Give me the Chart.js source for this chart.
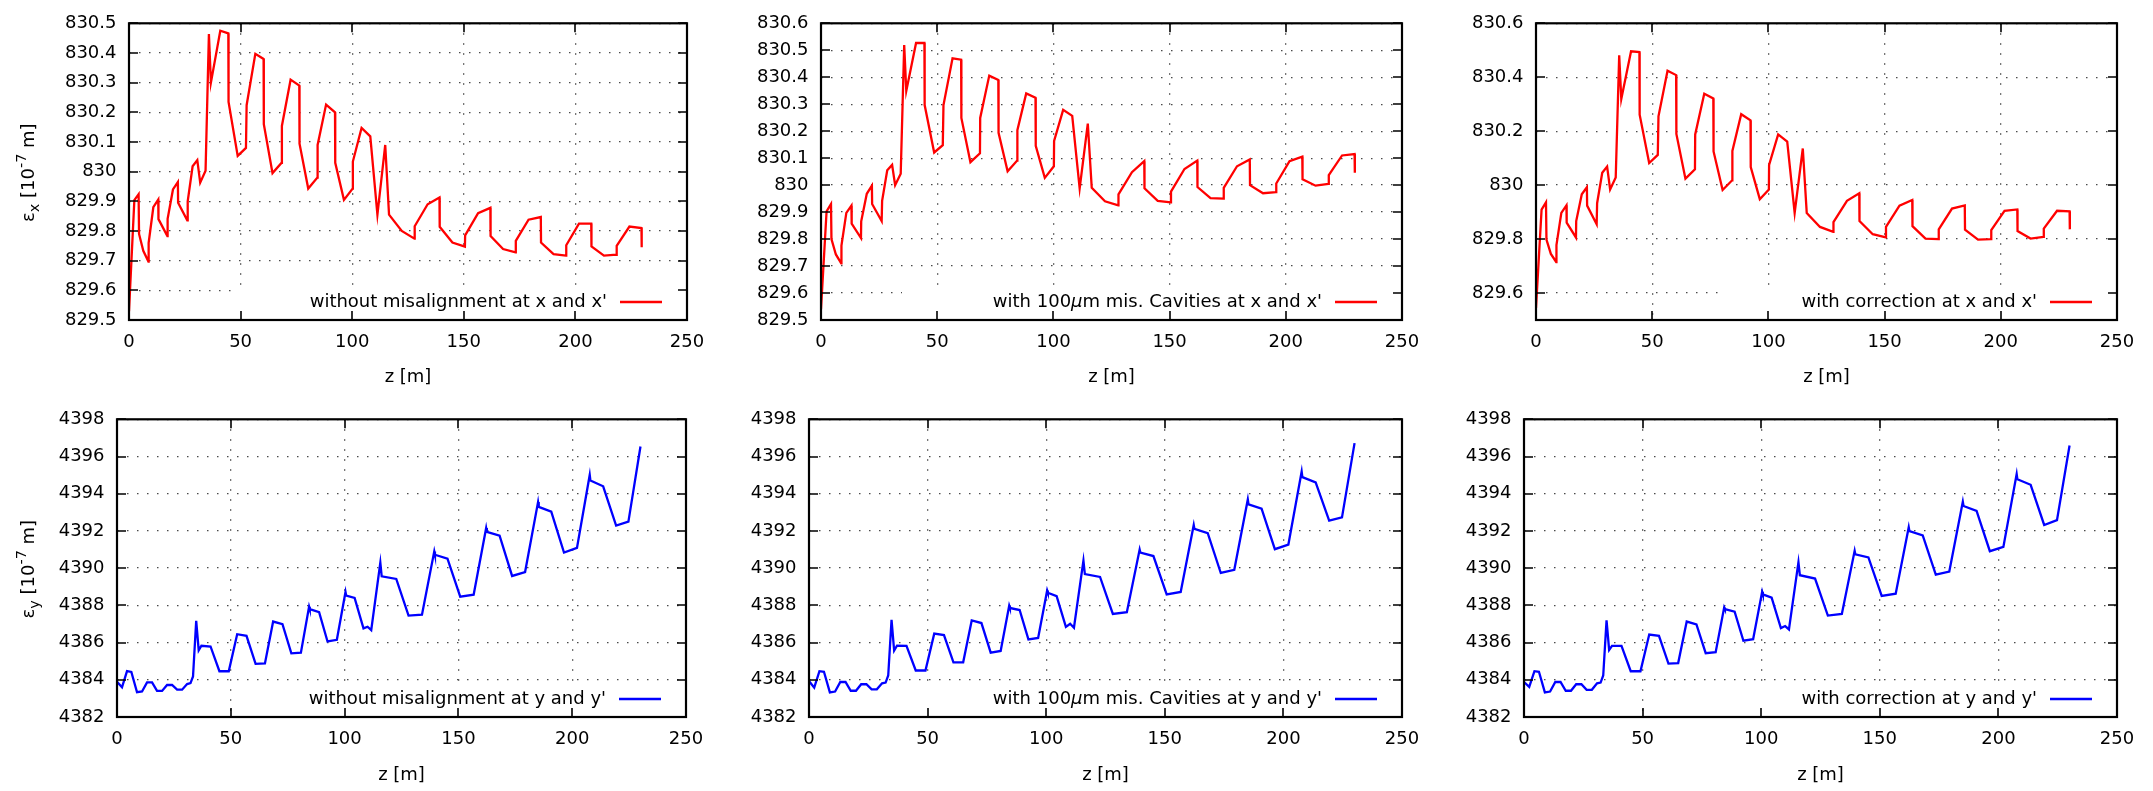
<!DOCTYPE html>
<html><head><meta charset="utf-8">
<script src="https://cdn.jsdelivr.net/npm/chart.js@4.4.1/dist/chart.umd.min.js"></script>
<style>
html,body{margin:0;padding:0;background:#fff;}
body{width:2153px;height:791px;position:relative;overflow:hidden;}
.panel{position:absolute;}
.panel canvas{display:block;}
</style></head><body>
<div class="panel" id="p0"><canvas id="c0"></canvas></div>
<div class="panel" id="p1"><canvas id="c1"></canvas></div>
<div class="panel" id="p2"><canvas id="c2"></canvas></div>
<div class="panel" id="p3"><canvas id="c3"></canvas></div>
<div class="panel" id="p4"><canvas id="c4"></canvas></div>
<div class="panel" id="p5"><canvas id="c5"></canvas></div>
<script>
// ---------------- data ----------------
const zTop = [0, 2.4, 4.3, 4.5, 6.4, 8.7, 8.8, 10.9, 13.1, 13.2, 17.2, 17.3, 19.7, 21.9, 22.0, 26.1, 26.3, 28.5, 30.6, 31.9, 34.3, 35.8, 36.7, 40.9, 44.5, 44.6, 48.7, 52.4, 52.7, 56.6, 60.3, 60.4, 64.3, 68.4, 68.5, 72.4, 76.3, 76.4, 80.3, 84.4, 84.5, 88.3, 92.3, 92.4, 96.3, 100.2, 100.3, 104.2, 108.1, 111.3, 114.8, 116.5, 122.2, 127.9, 128.0, 133.8, 139.1, 139.2, 144.9, 150.5, 150.6, 156.4, 161.9, 162.0, 167.6, 173.2, 173.3, 179.0, 184.5, 184.6, 190.2, 195.8, 195.9, 201.6, 207.1, 207.2, 212.8, 218.4, 218.5, 224.2, 229.6, 229.7];

const emitXWithout = [829.53, 829.904, 829.924, 829.79, 829.733, 829.697, 829.76, 829.88, 829.906, 829.84, 829.783, 829.841, 829.94, 829.965, 829.895, 829.836, 829.90, 830.018, 830.039, 829.963, 830.003, 830.464, 830.30, 830.475, 830.466, 830.235, 830.053, 830.08, 830.224, 830.397, 830.38, 830.16, 829.995, 830.03, 830.154, 830.31, 830.29, 830.094, 829.943, 829.98, 830.09, 830.226, 830.2, 830.03, 829.905, 829.943, 830.034, 830.147, 830.119, 829.855, 830.09, 829.855, 829.80, 829.774, 829.816, 829.89, 829.913, 829.814, 829.761, 829.747, 829.785, 829.86, 829.878, 829.783, 829.739, 829.728, 829.767, 829.838, 829.847, 829.761, 829.722, 829.717, 829.752, 829.825, 829.825, 829.748, 829.717, 829.72, 829.75, 829.815, 829.81, 829.745];

const emitXMisaligned = [829.54, 829.903, 829.93, 829.80, 829.743, 829.71, 829.776, 829.897, 829.924, 829.857, 829.804, 829.866, 829.968, 829.998, 829.93, 829.867, 829.942, 830.055, 830.075, 830.0, 830.042, 830.519, 830.349, 830.527, 830.527, 830.297, 830.121, 830.148, 830.297, 830.47, 830.465, 830.249, 830.085, 830.118, 830.249, 830.406, 830.39, 830.194, 830.051, 830.091, 830.204, 830.34, 830.324, 830.146, 830.027, 830.07, 830.164, 830.279, 830.257, 829.988, 830.228, 829.99, 829.94, 829.925, 829.966, 830.048, 830.089, 829.988, 829.942, 829.936, 829.976, 830.06, 830.091, 829.993, 829.952, 829.95, 829.99, 830.07, 830.095, 830.0, 829.97, 829.974, 830.006, 830.089, 830.106, 830.022, 829.998, 830.005, 830.037, 830.11, 830.115, 830.046];

const emitXCorrected = [829.545, 829.909, 829.936, 829.798, 829.745, 829.715, 829.778, 829.897, 829.925, 829.861, 829.806, 829.867, 829.966, 829.992, 829.924, 829.855, 829.933, 830.046, 830.069, 829.984, 830.028, 830.481, 830.319, 830.496, 830.493, 830.261, 830.082, 830.112, 830.255, 830.424, 830.408, 830.19, 830.024, 830.059, 830.188, 830.339, 830.321, 830.125, 829.982, 830.018, 830.127, 830.263, 830.24, 830.067, 829.948, 829.984, 830.075, 830.188, 830.161, 829.897, 830.136, 829.897, 829.845, 829.827, 829.863, 829.942, 829.97, 829.867, 829.818, 829.806, 829.845, 829.924, 829.945, 829.848, 829.802, 829.8, 829.836, 829.913, 829.925, 829.835, 829.798, 829.8, 829.833, 829.905, 829.91, 829.83, 829.802, 829.808, 829.839, 829.905, 829.903, 829.836];

const zBottom = [0, 2.2, 4.4, 6.3, 8.8, 11, 13.2, 15.4, 17.6, 19.8, 22, 24.2, 26.4, 28.6, 30.8, 32.3, 33.4, 34.8, 35.9, 37.1, 41.1, 45.0, 49.1, 52.8, 56.9, 60.9, 65.0, 68.6, 72.7, 76.6, 80.8, 84.4, 84.7, 88.8, 92.5, 96.6, 100.4, 100.7, 104.4, 108.3, 110.1, 111.7, 115.7, 116.3, 122.7, 128.1, 134.0, 139.4, 139.7, 145.2, 150.8, 156.7, 162.2, 162.5, 168.1, 173.6, 179.3, 185.0, 185.3, 190.8, 196.4, 202.1, 207.7, 208.0, 213.6, 219.3, 224.7, 230.0];

const emitYWithout = [4383.89, 4383.6, 4384.47, 4384.42, 4383.33, 4383.37, 4383.86, 4383.86, 4383.4, 4383.4, 4383.72, 4383.72, 4383.47, 4383.47, 4383.77, 4383.82, 4384.18, 4387.17, 4385.58, 4385.83, 4385.79, 4384.46, 4384.46, 4386.45, 4386.36, 4384.86, 4384.88, 4387.13, 4386.99, 4385.42, 4385.46, 4387.93, 4387.8, 4387.64, 4386.06, 4386.15, 4388.72, 4388.52, 4388.4, 4386.76, 4386.85, 4386.67, 4390.3, 4389.56, 4389.42, 4387.45, 4387.5, 4390.9, 4390.72, 4390.51, 4388.47, 4388.57, 4392.16, 4391.95, 4391.74, 4389.58, 4389.79, 4393.55, 4393.29, 4393.04, 4390.84, 4391.09, 4395.01, 4394.71, 4394.4, 4392.29, 4392.5, 4396.54];

const emitYMisaligned = [4383.93, 4383.58, 4384.46, 4384.43, 4383.32, 4383.37, 4383.88, 4383.88, 4383.41, 4383.41, 4383.76, 4383.76, 4383.49, 4383.49, 4383.81, 4383.85, 4384.23, 4387.22, 4385.57, 4385.83, 4385.82, 4384.5, 4384.5, 4386.48, 4386.4, 4384.94, 4384.94, 4387.19, 4387.05, 4385.46, 4385.55, 4387.98, 4387.86, 4387.75, 4386.17, 4386.25, 4388.8, 4388.68, 4388.5, 4386.84, 4387.01, 4386.8, 4390.4, 4389.68, 4389.53, 4387.54, 4387.63, 4391.0, 4390.84, 4390.65, 4388.59, 4388.72, 4392.32, 4392.11, 4391.88, 4389.74, 4389.91, 4393.69, 4393.43, 4393.2, 4391.02, 4391.27, 4395.19, 4394.89, 4394.61, 4392.55, 4392.73, 4396.72];

const emitYCorrected = [4383.88, 4383.62, 4384.46, 4384.43, 4383.32, 4383.37, 4383.88, 4383.88, 4383.41, 4383.41, 4383.76, 4383.76, 4383.46, 4383.46, 4383.81, 4383.85, 4384.23, 4387.19, 4385.6, 4385.82, 4385.82, 4384.46, 4384.46, 4386.43, 4386.36, 4384.87, 4384.9, 4387.13, 4386.98, 4385.43, 4385.48, 4387.89, 4387.8, 4387.66, 4386.1, 4386.18, 4388.73, 4388.59, 4388.42, 4386.78, 4386.89, 4386.71, 4390.32, 4389.62, 4389.44, 4387.45, 4387.54, 4390.93, 4390.74, 4390.58, 4388.51, 4388.63, 4392.2, 4391.99, 4391.76, 4389.65, 4389.82, 4393.57, 4393.34, 4393.08, 4390.91, 4391.14, 4395.06, 4394.78, 4394.48, 4392.32, 4392.58, 4396.59];

const zTicks = [0, 50, 100, 150, 200, 250];
const yTicksLeftTop = [829.5, 829.6, 829.7, 829.8, 829.9, 830.0, 830.1, 830.2, 830.3, 830.4, 830.5];
const yTicksMidTop = [829.5, 829.6, 829.7, 829.8, 829.9, 830.0, 830.1, 830.2, 830.3, 830.4, 830.5, 830.6];
const yTicksRightTop = [829.6, 829.8, 830.0, 830.2, 830.4, 830.6];
const yTicksBottom = [4382, 4384, 4386, 4388, 4390, 4392, 4394, 4396, 4398];

const legendLabels = [
  "without misalignment at x and x'",
  "with 100μm mis. Cavities at x and x'",
  "with correction at x and x'",
  "without misalignment at y and y'",
  "with 100μm mis. Cavities at y and y'",
  "with correction at y and y'"
];
const xAxisTitle = 'z [m]';
const yAxisTitles = [
  [{t:'ε'}, {t:'x', sub:true}, {t:' [10'}, {t:'-7', sup:true}, {t:' m]'}],
  [{t:'ε'}, {t:'y', sub:true}, {t:' [10'}, {t:'-7', sup:true}, {t:' m]'}]
];

// ---------------- layout / style ----------------
const FONT = "'DejaVu Sans', 'Liberation Sans', sans-serif";
const FS = 18;
const panels = [
  {x0:0,    y0:0,   w:718, h:396, L:129,  R:687,  T:18,  B:320, z:zTop, v:emitXWithout,   ymin:829.5, ymax:830.5, yt:yTicksLeftTop,  color:'#ff0000', leg:0, boxW:455, ytitle:0, xtPad:8.2},
  {x0:718,  y0:0,   w:718, h:396, L:821,  R:1402, T:18,  B:320, z:zTop, v:emitXMisaligned,ymin:829.5, ymax:830.6, yt:yTicksMidTop,   color:'#ff0000', leg:1, boxW:500, ytitle:-1, xtPad:8.2},
  {x0:1435, y0:0,   w:718, h:396, L:1536, R:2117, T:18,  B:320, z:zTop, v:emitXCorrected, ymin:829.5, ymax:830.6, yt:yTicksRightTop, color:'#ff0000', leg:2, boxW:397, ytitle:-1, xtPad:8.2},
  {x0:0,    y0:396, w:718, h:395, L:117,  R:686,  T:416, B:717, z:zBottom, v:emitYWithout,   ymin:4382, ymax:4398, yt:yTicksBottom, color:'#0000ff', leg:3, boxW:450, ytitle:1, xtPad:5.2},
  {x0:718,  y0:396, w:718, h:395, L:809,  R:1402, T:416, B:717, z:zBottom, v:emitYMisaligned,ymin:4382, ymax:4398, yt:yTicksBottom, color:'#0000ff', leg:4, boxW:500, ytitle:-1, xtPad:5.2},
  {x0:1435, y0:396, w:718, h:395, L:1524, R:2117, T:416, B:717, z:zBottom, v:emitYCorrected, ymin:4382, ymax:4398, yt:yTicksBottom, color:'#0000ff', leg:5, boxW:397, ytitle:-1, xtPad:5.2}
];

function fmt(v) { return String(parseFloat(Number(v).toFixed(3))); }

function setFont(ctx, size, italic) {
  ctx.font = (italic ? 'italic ' : '') + size + 'px ' + FONT;
}

const gnuPlugin = {
  id: 'gnu',
  beforeDatasetsDraw(chart, args, o) {
    const {ctx, chartArea: a} = chart;
    ctx.save();
    ctx.fillStyle = '#ffffff';
    ctx.fillRect(a.right - o.boxW, a.bottom - 31, o.boxW, 31);
    ctx.restore();
  },
  afterDatasetsDraw(chart, args, o) {
    const {ctx, chartArea: a, scales} = chart;
    ctx.save();
    // inward tics on all four sides
    const tl = 9;
    ctx.strokeStyle = '#000';
    ctx.lineWidth = 1.6;
    ctx.beginPath();
    scales.x.ticks.forEach(t => {
      const px = Math.round(scales.x.getPixelForValue(t.value));
      ctx.moveTo(px, a.bottom); ctx.lineTo(px, a.bottom - tl);
      ctx.moveTo(px, a.top); ctx.lineTo(px, a.top + tl);
    });
    scales.y.ticks.forEach(t => {
      const py = Math.round(scales.y.getPixelForValue(t.value));
      ctx.moveTo(a.left, py); ctx.lineTo(a.left + tl, py);
      ctx.moveTo(a.right, py); ctx.lineTo(a.right - tl, py);
    });
    ctx.stroke();
    // border
    ctx.lineWidth = 2.2;
    ctx.strokeRect(a.left, a.top, a.right - a.left, a.bottom - a.top);

    // key (legend)
    const ly = a.bottom - 18;
    const label = o.label;
    const parts = [];
    label.split('μ').forEach((s, i) => { if (i > 0) parts.push({t:'μ', it:true}); if (s) parts.push({t:s, it:false}); });
    let total = 0;
    parts.forEach(p => { setFont(ctx, FS, p.it); p.w = ctx.measureText(p.t).width; total += p.w; });
    let x = a.right - 80 - total;
    ctx.fillStyle = '#000';
    ctx.textBaseline = 'middle';
    ctx.textAlign = 'left';
    parts.forEach(p => { setFont(ctx, FS, p.it); ctx.fillText(p.t, x, ly); x += p.w; });
    ctx.strokeStyle = o.color;
    ctx.lineWidth = 2.4;
    ctx.beginPath();
    ctx.moveTo(a.right - 67, ly); ctx.lineTo(a.right - 25, ly);
    ctx.stroke();

    // y axis title with sub/superscripts (enhanced text)
    if (o.ytitle) {
      const segs = o.ytitle;
      let w = 0;
      segs.forEach(s => { const sz = (s.sub || s.sup) ? FS * 0.8 : FS; setFont(ctx, sz, false); s.w = ctx.measureText(s.t).width; w += s.w; });
      ctx.translate(27 - (o.x0 || 0), (a.top + a.bottom) / 2 + 1);
      ctx.rotate(-Math.PI / 2);
      ctx.textBaseline = 'alphabetic';
      ctx.fillStyle = '#000';
      let cx = -w / 2;
      const base = 6.5;
      segs.forEach(s => {
        const sz = (s.sub || s.sup) ? FS * 0.8 : FS;
        setFont(ctx, sz, false);
        let dy = base;
        if (s.sub) dy += 5;
        if (s.sup) dy -= 8;
        ctx.fillText(s.t, cx, dy);
        cx += s.w;
      });
    }
    ctx.restore();
  }
};

Chart.defaults.font.family = FONT;
Chart.defaults.font.size = FS;
Chart.defaults.color = '#000';

panels.forEach((p, i) => {
  const div = document.getElementById('p' + i);
  div.style.left = p.x0 + 'px';
  div.style.top = p.y0 + 'px';
  div.style.width = p.w + 'px';
  div.style.height = p.h + 'px';
  const yAxisW = p.L - p.x0;
  const xAxisH = p.y0 + p.h - p.B;
  const yTickVals = p.yt;
  new Chart(document.getElementById('c' + i), {
    type: 'line',
    data: {
      datasets: [{
        label: legendLabels[p.leg],
        data: p.z.map((zz, k) => ({x: zz, y: p.v[k]})),
        borderColor: p.color,
        borderWidth: 2.3,
        pointRadius: 0,
        tension: 0,
        fill: false,
        borderJoinStyle: 'miter'
      }]
    },
    options: {
      responsive: true,
      maintainAspectRatio: false,
      animation: false,
      devicePixelRatio: 1,
      events: [],
      layout: { autoPadding: false, padding: { left: 0, top: p.T - p.y0, right: p.x0 + p.w - p.R, bottom: 0 } },
      plugins: {
        legend: { display: false },
        tooltip: { enabled: false },
        gnu: { boxW: p.boxW, label: legendLabels[p.leg], color: p.color, ytitle: p.ytitle >= 0 ? yAxisTitles[p.ytitle] : null, x0: p.x0 }
      },
      scales: {
        x: {
          type: 'linear', min: 0, max: 250,
          afterBuildTicks: s => { s.ticks = zTicks.map(v => ({value: v})); },
          afterFit: s => { s.height = xAxisH; },
          ticks: { autoSkip: false, maxRotation: 0, padding: 12, color: '#000', font: {size: FS, family: FONT}, callback: v => fmt(v) },
          grid: { display: true, drawOnChartArea: true, drawTicks: false, color: '#4a4a4a', lineWidth: 1.3 },
          border: { display: false, dash: [1.5, 8.5] },
          title: { display: true, text: xAxisTitle, color: '#000', font: {size: FS, family: FONT}, padding: {top: 0, bottom: p.xtPad} }
        },
        y: {
          type: 'linear', min: p.ymin, max: p.ymax,
          afterBuildTicks: s => { s.ticks = yTickVals.map(v => ({value: v})); },
          afterFit: s => { s.width = yAxisW; },
          ticks: { autoSkip: false, padding: 12.5, color: '#000', font: {size: FS, family: FONT}, callback: v => fmt(v) },
          grid: { display: true, drawOnChartArea: true, drawTicks: false, color: '#4a4a4a', lineWidth: 1.3 },
          border: { display: false, dash: [1.5, 8.5] }
        }
      }
    },
    plugins: [gnuPlugin]
  });
});
</script>
</body></html>
